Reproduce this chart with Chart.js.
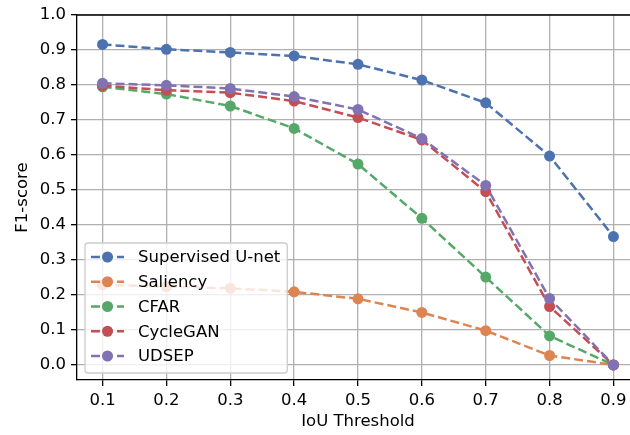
<!DOCTYPE html>
<html>
<head>
<meta charset="utf-8">
<script src="https://cdn.jsdelivr.net/npm/chart.js@4"></script>
<style>
  html, body { margin: 0; padding: 0; overflow: hidden; background: #fff; }
  canvas { display: block; }
</style>
</head>
<body>
<canvas id="chart" width="650" height="435"></canvas>
<script>
// values
const thresholds = [0.1, 0.2, 0.3, 0.4, 0.5, 0.6, 0.7, 0.8, 0.9];
const supervisedUnet = [0.916, 0.902, 0.893, 0.883, 0.859, 0.814, 0.749, 0.597, 0.367];
const saliency = [0.229, 0.224, 0.219, 0.209, 0.189, 0.150, 0.098, 0.027, 0.0];
const cfar = [0.795, 0.774, 0.740, 0.676, 0.574, 0.419, 0.251, 0.083, 0.0];
const cycleGan = [0.798, 0.785, 0.778, 0.754, 0.707, 0.643, 0.495, 0.167, 0.0];
const udsep = [0.805, 0.799, 0.790, 0.767, 0.730, 0.647, 0.513, 0.190, 0.0];
const seriesLabels = ['Supervised U-net', 'Saliency', 'CFAR', 'CycleGAN', 'UDSEP'];
const seriesColors = ['#4C72B0', '#DD8452', '#55A868', '#C44E52', '#8172B3'];
const xTicks = [0.1, 0.2, 0.3, 0.4, 0.5, 0.6, 0.7, 0.8, 0.9];
const yTicks = [0.0, 0.1, 0.2, 0.3, 0.4, 0.5, 0.6, 0.7, 0.8, 0.9, 1.0];

const FONT = { family: 'DejaVu Sans', size: 16.5 };
const DASH = [9, 4];

const allSeries = [supervisedUnet, saliency, cfar, cycleGan, udsep];
const datasets = allSeries.map((vals, i) => ({
  label: seriesLabels[i],
  data: vals.map((v, j) => ({ x: thresholds[j], y: v })),
  borderColor: seriesColors[i],
  backgroundColor: seriesColors[i],
  borderWidth: 2.5,
  borderDash: DASH,
  pointRadius: 5.5,
  pointHoverRadius: 5.5,
  pointBorderWidth: 0,
  tension: 0,
  order: allSeries.length - i
}));

// matplotlib-style legend inside the axes, lower left, plus top/right spines
const extras = {
  id: 'extras',
  afterDatasetsDraw(chart) {
    const ctx = chart.ctx;
    const ca = chart.chartArea;
    ctx.save();
    ctx.strokeStyle = '#000';
    ctx.lineWidth = 1.3;
    ctx.beginPath();
    ctx.moveTo(ca.left, ca.top);
    ctx.lineTo(ca.right, ca.top);
    ctx.lineTo(ca.right, ca.bottom);
    ctx.stroke();

    ctx.font = FONT.size + 'px ' + FONT.family;
    const maxW = Math.max(...seriesLabels.map(t => ctx.measureText(t).width));
    const rowStep = 24.75;
    const boxL = ca.left + 8;
    const boxB = ca.bottom - 7;
    const boxH = 130;
    const boxT = boxB - boxH;
    const boxW = 53 + maxW + 7;
    ctx.beginPath();
    ctx.roundRect(boxL, boxT, boxW, boxH, 3);
    ctx.fillStyle = 'rgba(255,255,255,0.8)';
    ctx.fill();
    ctx.strokeStyle = '#cccccc';
    ctx.lineWidth = 1.3;
    ctx.stroke();

    chart.data.datasets.forEach((ds, i) => {
      const y = boxT + 14 + i * rowStep;
      ctx.strokeStyle = ds.borderColor;
      ctx.lineWidth = 2.5;
      ctx.setLineDash(DASH);
      ctx.beginPath();
      ctx.moveTo(boxL + 6, y);
      ctx.lineTo(boxL + 39, y);
      ctx.stroke();
      ctx.setLineDash([]);
      ctx.fillStyle = ds.backgroundColor;
      ctx.beginPath();
      ctx.arc(boxL + 22.5, y, 5.5, 0, Math.PI * 2);
      ctx.fill();
      ctx.fillStyle = '#000';
      ctx.textAlign = 'left';
      ctx.textBaseline = 'middle';
      ctx.fillText(ds.label, boxL + 53, y + 1);
    });
    ctx.restore();
  }
};

new Chart(document.getElementById('chart'), {
  type: 'line',
  data: { datasets },
  plugins: [extras],
  options: {
    responsive: false,
    animation: false,
    devicePixelRatio: 1,
    layout: { padding: { left: 0, top: 15, right: 11, bottom: 0 } },
    plugins: { legend: { display: false }, tooltip: { enabled: false } },
    scales: {
      x: {
        type: 'linear',
        min: 0.06,
        max: 0.94,
        afterBuildTicks: s => { s.ticks = xTicks.map(v => ({ value: v })); },
        afterFit: s => { s.height = 55; },
        ticks: {
          font: FONT, color: '#000', padding: 5,
          maxRotation: 0, autoSkip: false,
          callback: v => v.toFixed(1)
        },
        grid: { color: '#b0b0b0', lineWidth: 1.3, tickColor: '#000', tickWidth: 1.3, tickLength: 6 },
        border: { color: '#000', width: 1.3 },
        title: { display: true, text: 'IoU Threshold', font: FONT, color: '#000', padding: { top: 0, bottom: 3 } }
      },
      y: {
        type: 'linear',
        min: -0.043,
        max: 1.0,
        afterBuildTicks: s => { s.ticks = yTicks.map(v => ({ value: v })); },
        afterFit: s => { s.width = 77; },
        ticks: {
          font: FONT, color: '#000', padding: 5,
          autoSkip: false,
          callback: v => v.toFixed(1)
        },
        grid: { color: '#b0b0b0', lineWidth: 1.3, tickColor: '#000', tickWidth: 1.3, tickLength: 6 },
        border: { color: '#000', width: 1.3 },
        title: { display: true, text: 'F1-score', font: FONT, color: '#000', padding: { top: 12.5, bottom: 0 } }
      }
    }
  }
});
</script>
</body>
</html>
